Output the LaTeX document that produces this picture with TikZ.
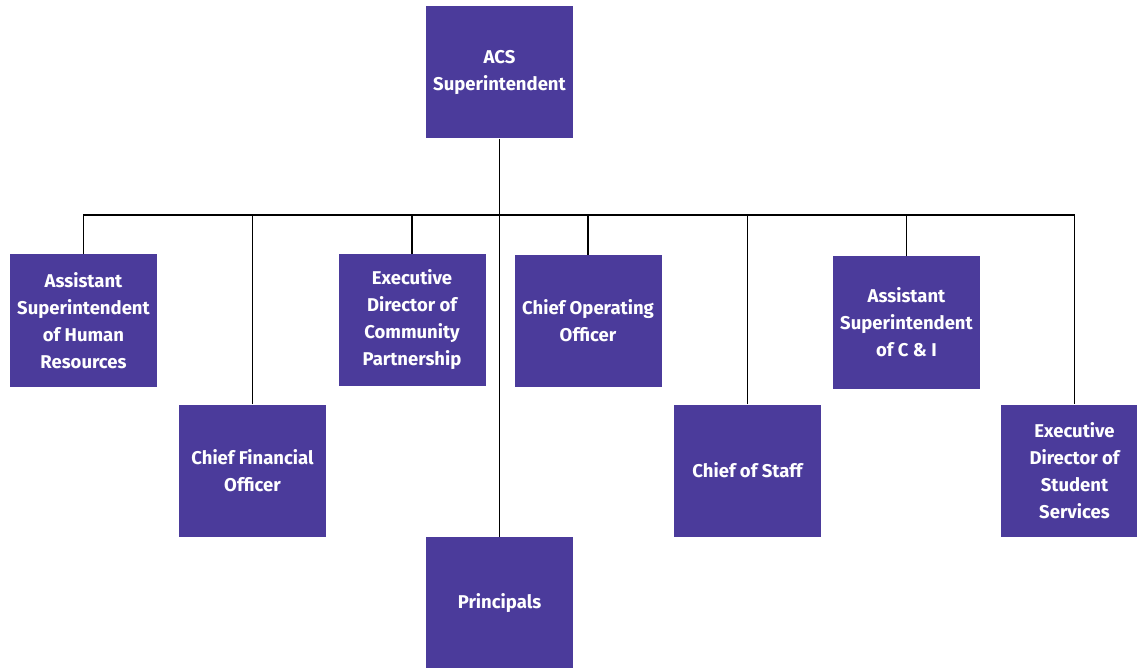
\documentclass[tikz,border=0pt]{standalone}
\usepackage{fontspec}
\setmainfont{Fira Sans}
\definecolor{boxpurple}{RGB}{75,59,155}
\begin{document}
\begin{tikzpicture}[x=1pt,y=-1pt,
  orgbox/.style={fill=boxpurple, draw=none, minimum width=147pt, minimum height=132pt,
    inner sep=0pt, align=center, text=white, font=\fontsize{18.5}{27}\selectfont\bfseries},
  link/.style={draw=black, line width=1.3pt}]
\useasboundingbox (0,0) rectangle (1137,668);
\clip (0,0) rectangle (1137,668);
\node[orgbox] (acs) at (499.5,72.5) {ACS\\Superintendent};
\node[orgbox] (hr) at (83.5,320.5) {Assistant\\Superintendent\\of Human\\Resources};
\node[orgbox] (cfo) at (252.5,470.5) {Chief Financial\\Officer};
\node[orgbox] (ecp) at (412,320) {Executive\\Director of\\Community\\Partnership};
\node[orgbox] (coo) at (588,321) {Chief Operating\\Officer};
\node[orgbox] (cos) at (747.5,470.5) {Chief of Staff};
\node[orgbox] (ci) at (906.5,322.5) {Assistant\\Superintendent\\of C \& I};
\node[orgbox] (esd) at (1074.5,470.5) {Executive\\Director of\\Student\\Services};
\node[orgbox] (pr) at (499.5,603) {Principals};
\coordinate (bus) at (499.5,215);
\draw[link] (acs.south) -- (pr.north);
\draw[link] (hr.north) -- (hr.north |- bus) -- (esd.north |- bus) -- (esd.north);
\foreach \n in {cfo,ecp,coo,cos,ci}
  \draw[link] (\n.north) -- (\n.north |- bus);
\end{tikzpicture}
\end{document}
